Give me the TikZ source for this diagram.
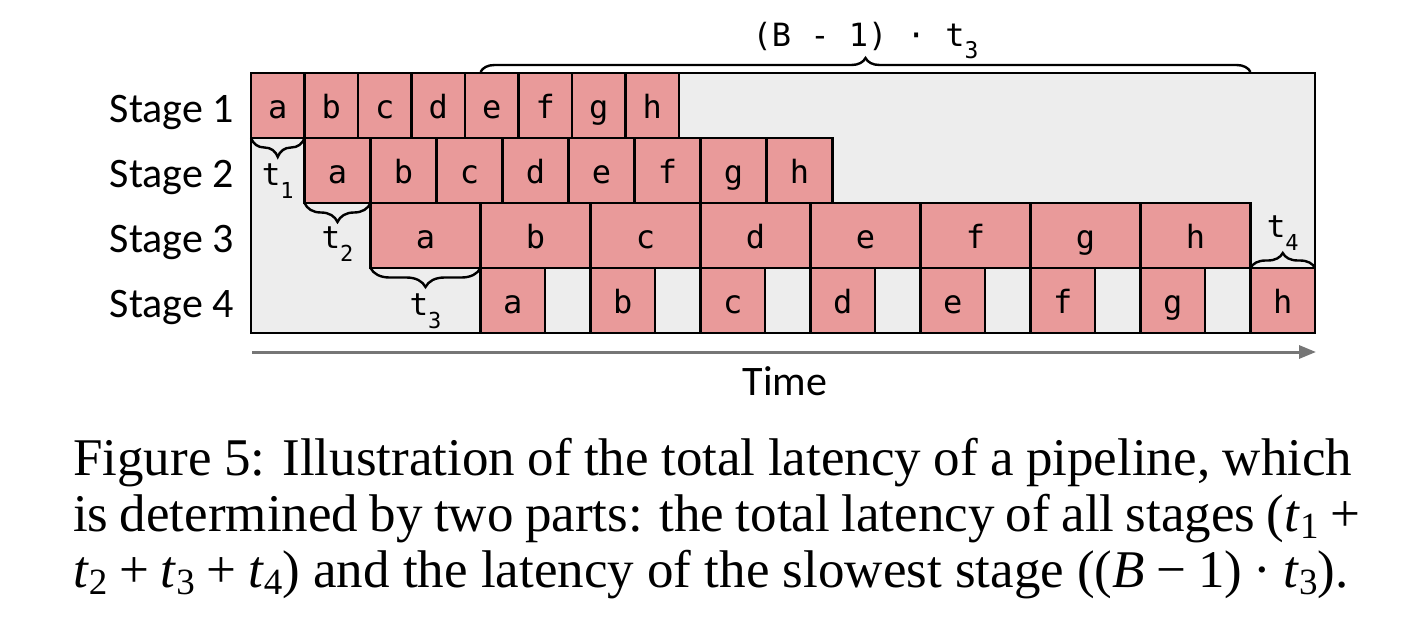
\documentclass[tikz,border=0pt]{standalone}
\usepackage{fontspec}
\setmainfont{Liberation Serif}
\newfontfamily\calib{Carlito}
\newfontfamily\monof{DejaVu Sans Mono}
\usetikzlibrary{decorations.pathreplacing,arrows.meta}
\definecolor{boxpink}{HTML}{E99A9A}
\definecolor{bggray}{HTML}{EDEDED}
\definecolor{arrgray}{HTML}{767676}
\newcommand\mt[1]{{\monof\fontsize{31}{31}\selectfont t\raisebox{-13pt}{\fontsize{22}{22}\selectfont #1}}}
\newcommand\ct[1]{\textit{t}\raisebox{-7pt}{\fontsize{37}{37}\selectfont #1}}
\newcommand\bop{\hspace{0.22em}}
\begin{document}
\begin{tikzpicture}[x=1pt,y=-1pt,
  job/.style={draw=black, line width=2.2pt, fill=boxpink, inner sep=0pt, outer sep=0pt,
    minimum height=65pt, text height=25pt, text depth=0pt,
    font=\monof\fontsize{32}{32}\selectfont},
  brc/.style={draw=black, line width=2.4pt, decorate, decoration={brace, amplitude=#1}},
  stagelab/.style={anchor=base east, inner sep=0pt, font=\calib\fontsize{42}{42}\selectfont},
  capline/.style={anchor=base west, inner sep=0pt, font=\fontsize{53}{56}\selectfont},
  tlab/.style={anchor=base, inner sep=0pt}
]
\path[use as bounding box, fill=white] (0,0) rectangle (1420,642);

% frame
\node[draw=black, line width=2.6pt, fill=bggray, inner sep=0pt, outer sep=0pt,
  minimum width=1064pt, minimum height=260pt, anchor=north west] (frame) at (251,73) {};

% stage labels
\node[stagelab] (lab1) at (234,122) {Stage 1};
\node[stagelab] (lab2) at (234,187) {Stage 2};
\node[stagelab] (lab3) at (234,252) {Stage 3};
\node[stagelab] (lab4) at (234,317) {Stage 4};

% jobs
\foreach \jb [count=\i from 0] in {a,b,c,d,e,f,g,h} {
  \node[job, minimum width=53.5pt] (s1\jb) at ({251+53.5*\i+26.75},105.5) {\jb};
  \node[job, minimum width=66pt] (s2\jb) at ({304.5+66*\i+33},170.5) {\jb};
  \node[job, minimum width=110pt] (s3\jb) at ({370.5+110*\i+55},235.5) {\jb};
  \node[job, minimum width=64.5pt] (s4\jb) at ({480.5+110*\i+32.25},300.5) {\jb};
}

% braces
\draw[brc=19pt] (s1a.south east) -- (s1a.south west);
\path (s1a.south) ++(0,47) node[tlab] (t1) {\mt{1}};
\draw[brc=19pt] (s2a.south east) -- (s2a.south west);
\path (s2a.south) ++(0,45) node[tlab] (t2) {\mt{2}};
\draw[brc=19pt] (s3a.south east) -- (s3a.south west);
\path (s3a.south) ++(0,47) node[tlab] (t3) {\mt{3}};
\draw[brc=15pt] (s4h.north west) -- (s4h.north east);
\path (s4h.north) ++(0,-31) node[tlab] (t4) {\mt{4}};

\coordinate (bl) at (s4a.north west |- frame.north);
\coordinate (br) at (s4h.north west |- frame.north);
\draw[brc=14pt] ([yshift=1pt]bl) -- ([yshift=1pt]br);
\node[tlab] (btop) at (865.5,47) {\monof\fontsize{32}{32}\selectfont (B - 1) · t\raisebox{-12pt}{\fontsize{23}{23}\selectfont 3}};

% time axis
\coordinate (ta) at (252,352);
\coordinate (tb) at (1316,352);
\draw[arrgray, line width=3pt, -{Triangle[length=17pt,width=13pt]}] (ta) -- (tb);
\node[anchor=base, inner sep=0pt, font=\calib\fontsize{42}{42}\selectfont] (time) at (785,395) {Time};

% caption
\node[capline] (cap1) at (73,475) {\hbox to 1279pt{Figure 5: Illustration of the total latency of a pipeline, which}};
\node[capline] (cap2) at (73,531) {\hbox to 1287pt{is determined by two parts: the total latency of all stages (\ct{1}\bop+}};
\node[capline] (cap3) at (73,587) {\ct{2}\bop+\bop\ct{3}\bop+\bop\ct{4}) and the latency of the slowest stage ((\textit{B}\bop−\bop1)\bop·\bop\ct{3}).};
\end{tikzpicture}
\end{document}
